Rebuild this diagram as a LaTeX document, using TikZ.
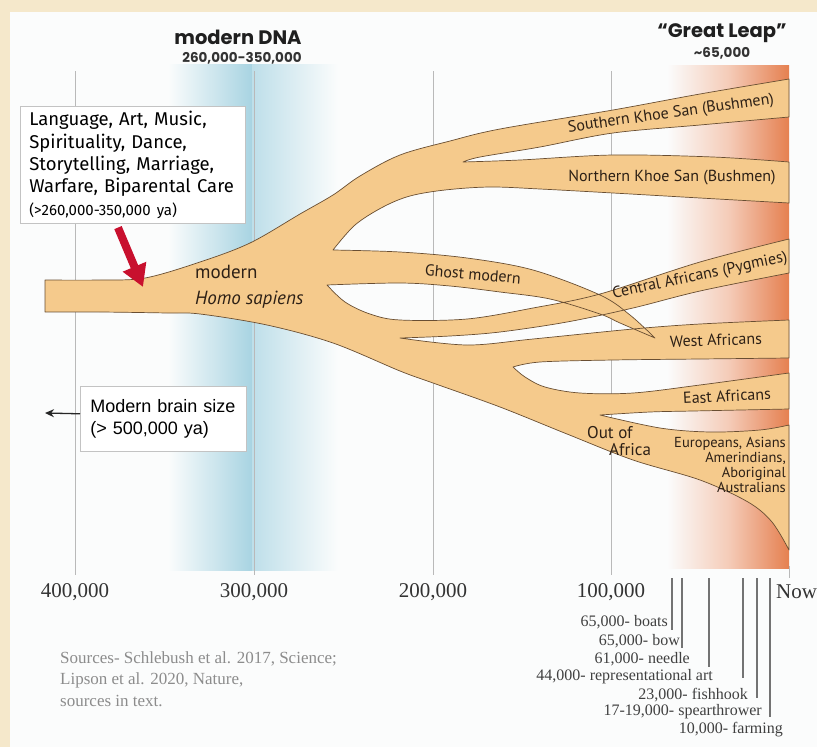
\documentclass[tikz,border=0pt]{standalone}
\usepackage{fontspec}
\setmainfont{Fira Sans}
\newfontfamily\treefont{PT Sans}
\newfontfamily\headfont{Poppins}
\newfontfamily\serifaxis{Liberation Serif}
\newfontfamily\arialfont{Liberation Sans}
\usetikzlibrary{arrows.meta,positioning}

\definecolor{framebeige}{RGB}{245,232,203}
\definecolor{panelwhite}{RGB}{251,252,252}
\definecolor{blueband}{RGB}{168,212,226}
\definecolor{orangeband}{RGB}{229,128,80}
\definecolor{treefill}{RGB}{245,202,140}
\definecolor{treeline}{RGB}{105,78,50}
\definecolor{gridgray}{RGB}{185,185,185}
\definecolor{labbrown}{RGB}{45,32,22}
\definecolor{redarrowcol}{RGB}{200,16,46}
\definecolor{boxgray}{RGB}{195,195,195}

\begin{document}
\begin{tikzpicture}[x=1pt, y=-1pt,
    tree/.style={fill=treefill, draw=treeline, line width=0.7pt, line join=round},
    gridline/.style={draw=gridgray, line width=1pt},
    axislabel/.style={font=\serifaxis\fontsize{21}{24}\selectfont, text=black!80, inner sep=0pt},
    lab/.style={font=\treefont\fontsize{16}{18}\selectfont, text=labbrown, inner sep=0pt},
    infobox/.style={draw=boxgray, fill=white, line width=0.6pt, align=left, anchor=north west},
    headline/.style={font=\headfont\bfseries\fontsize{19.5}{22}\selectfont, text=black!88},
    subline/.style={font=\headfont\bfseries\fontsize{13.5}{16}\selectfont, text=black!80},
    artline/.style={draw=black!55},
    artlabel/.style={font=\serifaxis\fontsize{16}{18}\selectfont, text=black!75, inner sep=0pt, anchor=east},
    redarrow/.style={draw=redarrowcol, line width=8pt, -{Triangle[length=22pt,width=24pt]}}
  ]
  \useasboundingbox (0,0) rectangle (817,747);

  % frame and panel
  \fill[framebeige] (0,0) rectangle (817,747);
  \fill[panelwhite] (10,12) rectangle (817,747);

  % time bands
  \shade[left color=panelwhite, right color=blueband] (168,64) rectangle (252,570);
  \shade[left color=blueband!75, right color=panelwhite] (252,64) rectangle (338,570);
  \shade[left color=panelwhite, right color=orangeband, middle color=orangeband!40] (667,65) rectangle (789,568);

  % time axis
  \foreach \gx/\glab in {75/{400,000}, 254/{300,000}, 433/{200,000}, 611/{100,000}} {
    \draw[gridline] (\gx,71) -- (\gx,575);
    \node[axislabel] (tick\gx) at (\gx,592) {\glab};
  }
  \draw[gridline] (789,566) -- (789,578);
  \node[axislabel, anchor=west] (now) at (776,592) {Now};

  % the tree
  \draw[tree]
    plot[smooth, tension=0.55] coordinates {(45,280) (100,280) (145,278) (200,262) (250,243) (300,214) (333,195) (360,176) (400,155) (450,141) (500,129) (613,110) (700,94) (789,79)}
    -- (789,117)
    -- plot[smooth, tension=0.55] coordinates {(789,117) (700,125) (613,133) (540,147) (480,157) (463,162)}
    -- plot[smooth, tension=0.55] coordinates {(463,162) (520,160) (613,155) (713,157) (789,162)}
    -- (789,203)
    -- plot[smooth, tension=0.55] coordinates {(789,203) (700,198) (613,193) (540,189) (490,187) (445,190) (410,196) (383,207) (355,225) (333,250)}
    -- plot[smooth, tension=0.55] coordinates {(333,250) (400,252) (467,258) (533,270) (600,295) (630,315) (655,338)}
    -- plot[smooth, tension=0.55] coordinates {(655,338) (620,323) (600,314) (550,299) (500,292) (450,286) (400,283) (327,285)}
    -- plot[smooth, tension=0.55] coordinates {(327,285) (345,302) (370,314) (400,320) (467,319) (533,308) (600,294) (700,262) (789,239)}
    -- (789,273)
    -- plot[smooth, tension=0.55] coordinates {(789,273) (700,291) (633,308) (567,322) (500,332) (450,336) (400,338)}
    -- plot[smooth, tension=0.55] coordinates {(400,338) (467,345) (533,339) (633,329) (700,324) (789,320)}
    -- (789,358)
    -- plot[smooth, tension=0.55] coordinates {(789,358) (700,359) (613,360) (540,362) (513,367)}
    -- plot[smooth, tension=0.55] coordinates {(513,367) (525,377) (545,387) (580,393) (633,393) (700,385) (789,373)}
    -- (789,409)
    -- plot[smooth, tension=0.55] coordinates {(789,409) (693,411) (650,412) (600,415)}
    -- plot[smooth, tension=0.55] coordinates {(600,415) (660,428) (710,432) (760,430) (789,425)}
    -- (789,550)
    -- plot[smooth, tension=0.55] coordinates {(789,550) (772,522) (748,502) (700,480) (633,460) (567,434) (500,407) (433,383) (400,371) (333,343) (267,325) (200,314) (167,313) (100,312) (45,312)}
    -- cycle;

  % branch labels
  \node[lab, font=\treefont\fontsize{19}{26}\selectfont, align=left, anchor=west] (modern) at (195,287) {modern\\\textit{Homo sapiens}};
  \node[lab, rotate=-5] (ghost) at (473,274) {Ghost modern};
  \node[lab, rotate=8] (southern) at (671,114) {Southern Khoe San (Bushmen)};
  \node[lab] (northern) at (672,178) {Northern Khoe San (Bushmen)};
  \node[lab, rotate=12] (central) at (700,276) {Central Africans (Pygmies)};
  \node[lab, rotate=2] (west) at (716,340) {West Africans};
  \node[lab, rotate=3] (east) at (727,396) {East Africans};
  \node[lab, font=\treefont\fontsize{17}{17}\selectfont, align=left, anchor=west] (outafrica) at (587,441) {Out of\\\hspace*{22pt}Africa};
  \node[lab, font=\treefont\fontsize{14.5}{15}\selectfont, align=right, anchor=east] (eurasia) at (786,465) {Europeans, Asians\\Amerindians,\\Aboriginal\\Australians};

  % info boxes
  \node[infobox, text width=207pt, inner xsep=9pt, inner ysep=5pt, minimum height=117pt,
        font=\fontsize{18.5}{22.3}\selectfont] (traits) at (20,106)
    {Language, Art, Music,\\Spirituality, Dance,\\Storytelling, Marriage,\\Warfare, Biparental Care\\{\fontsize{15}{18}\selectfont (>260,000-350,000 ya)}};
  \node[infobox, text width=146pt, inner xsep=10pt, minimum height=65pt,
        font=\arialfont\fontsize{18}{22}\selectfont] (brain) at (80,386)
    {Modern brain size\\(> 500,000 ya)};

  % arrows
  \coordinate (arrowtip) at (143,287);
  \coordinate (brainleft) at (45,413);
  \draw[redarrow] ([xshift=98pt,yshift=-4pt]traits.south west) -- (arrowtip);
  \draw[-{Stealth[length=9pt,width=8pt]}, line width=1.3pt, black!85] ([yshift=5pt]brain.west) -- (brainleft);

  % headings
  \node[headline] (dnatitle) at (238,37) {modern DNA};
  \node[subline] (dnarange) at (242,58) {260,000-350,000};
  \node[headline] (leaptitle) at (722,33) {“Great Leap”};
  \node[subline] (leaprange) at (722,53) {\textasciitilde 65,000};

  % artefacts
  \foreach \lx/\lbot/\lw in {672/630/2.6, 682/648/1.6, 709/667/1.6, 743/678/1.6, 757/698/1.6, 770/717/1.6}
    \draw[artline, line width=\lw pt] (\lx,578) -- (\lx,\lbot);
  \foreach \rx/\ry/\rtext in {668/622/{65,000- boats}, 680/641/{65,000- bow}, 690/659/{61,000- needle},
      713/677/{44,000- representational art}, 748/695/{23,000- fishhook},
      762/712/{17-19,000- spearthrower}, 783/730/{10,000- farming}}
    \node[artlabel] (art\ry) at (\rx,\ry) {\rtext};

  % sources
  \node[font=\serifaxis\fontsize{17}{21.5}\selectfont, text=black!45, align=left, anchor=north west, inner sep=0pt] (sources) at (60,651)
    {Sources- Schlebush et al. 2017, Science;\\Lipson et al. 2020, Nature,\\sources in text.};
\end{tikzpicture}
\end{document}
